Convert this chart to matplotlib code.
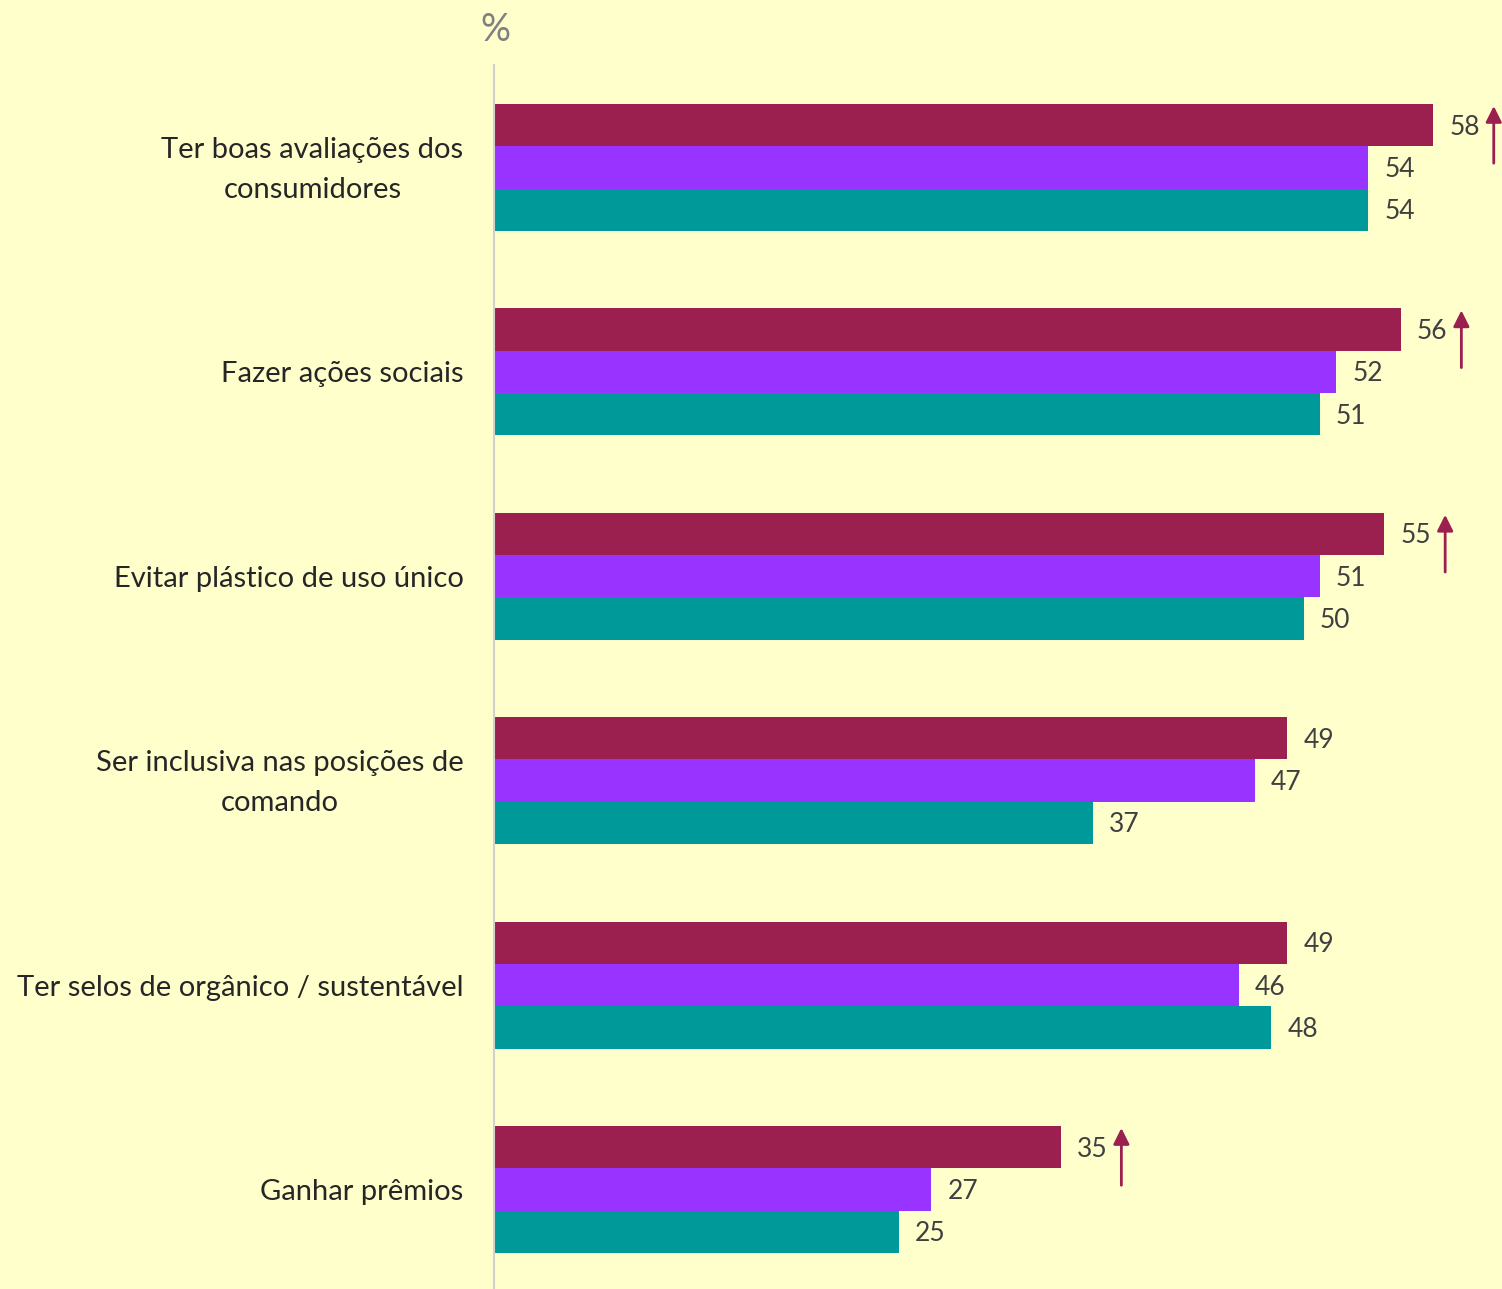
import matplotlib
matplotlib.use('Agg')
import matplotlib.pyplot as plt
import matplotlib.transforms as mtransforms
import numpy as np

plt.rcParams['font.family'] = ['Lato', 'DejaVu Sans']

categories = ['Ter boas avaliações dos\nconsumidores',
              'Fazer ações sociais',
              'Evitar plástico de uso único',
              'Ser inclusiva nas posições de\ncomando',
              'Ter selos de orgânico / sustentável',
              'Ganhar prêmios']
serie1 = [58, 56, 55, 49, 49, 35]
serie2 = [54, 52, 51, 47, 46, 27]
serie3 = [54, 51, 50, 37, 48, 25]
# grupos com seta de alta na primeira serie
seta = [True, True, True, False, False, True]

cores = ['#9B2050', '#9933FF', '#009999']
fundo = '#FFFFCC'

fig = plt.figure(figsize=(15.02, 12.89), dpi=100, facecolor=fundo)
ax = fig.add_axes([494 / 1502, 0, 1 - 494 / 1502, (1289 - 65) / 1289])
ax.set_facecolor(fundo)

y = np.arange(len(categories))
h = 0.207
for i, (vals, cor) in enumerate(zip([serie1, serie2, serie3], cores)):
    pos = y + (i - 1) * h
    ax.barh(pos, vals, height=h, color=cor, zorder=2)
    for p, v in zip(pos, vals):
        ax.text(v + 1.0, p + 0.01, str(v), va='center', ha='left',
                fontsize=19, color='#404040')

for g, s in enumerate(seta):
    if s:
        x = serie1[g] + 3.75
        topo = y[g] - 1.5 * h + 0.01
        ax.annotate('', xy=(x, topo), xytext=(x, topo + 0.28),
                    arrowprops=dict(arrowstyle='-|>', color='#9B2050',
                                    lw=2, mutation_scale=24,
                                    shrinkA=0, shrinkB=0))

ax.set_xlim(0, 62.26)
ax.set_ylim(5.487, -0.501)
ax.set_xticks([])
ax.set_yticks(y)
ax.set_yticklabels(categories, fontsize=21, color='#262626',
                   multialignment='center', linespacing=1.65)
ax.tick_params(axis='y', length=0, pad=22)
# sobe um pouco os rotulos de duas linhas
desloc = mtransforms.ScaledTranslation(0, 7 / 100, fig.dpi_scale_trans)
for lab in ax.get_yticklabels():
    if '\n' in lab.get_text():
        lab.set_transform(lab.get_transform() + desloc)
for side in ['top', 'right', 'bottom']:
    ax.spines[side].set_visible(False)
ax.spines['left'].set_color('#D0D0D0')
ax.spines['left'].set_linewidth(1.5)

fig.text(495 / 1502, 1 - 30 / 1289, '%', ha='center', va='center',
         fontsize=27, color='#808080')

fig.savefig('out.png', dpi=100, facecolor=fundo)
